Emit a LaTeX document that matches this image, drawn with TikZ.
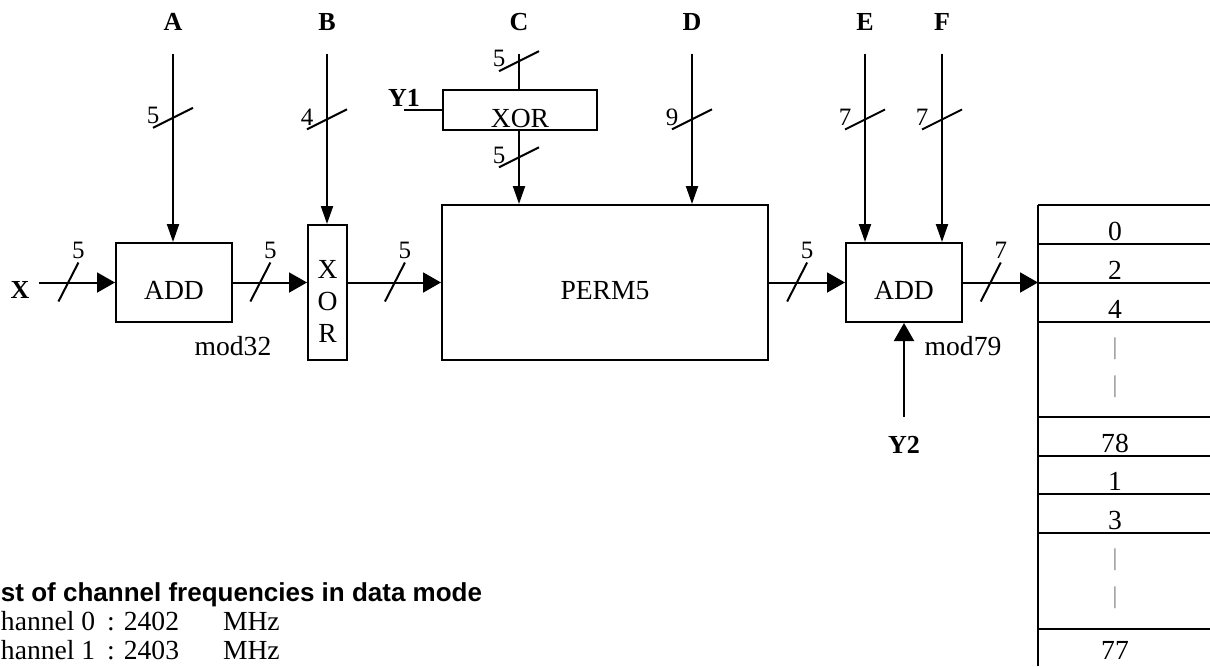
\documentclass[tikz,border=0pt]{standalone}
\usepackage{fontspec}
\setmainfont{Liberation Serif}
\setsansfont{Liberation Sans}
\usetikzlibrary{arrows.meta,positioning}

\begin{document}
\begin{tikzpicture}[
		x=0.5pt, y=-0.5pt, line width=1pt,
		font=\fontsize{13.8}{16}\selectfont,
		box/.style={draw, inner sep=0pt, text height=17pt, text depth=0pt},
		sig/.style={font=\bfseries\fontsize{13}{15}\selectfont, inner sep=0pt, text height=8.5pt, text depth=0pt},
		arr/.style={-{Triangle[length=9pt, width=10pt]}},
		narr/.style={-{Triangle[length=9pt, width=6pt]}},
		feed/.style={narr, shorten <=11pt},
		bits/.style={above, inner sep=1.5pt, font=\fontsize{12.5}{14}\selectfont},
		cell/.style={anchor=base},
		gap/.style={text=black!50, font=\fontsize{12}{14}\selectfont},
		note/.style={anchor=base west, inner sep=0pt},
		]
		\useasboundingbox (0,0) rectangle (1210,666);
		
		% blocks
		\node[box, minimum width=58pt, minimum height=39.5pt] (add1) at (174,282.5) {ADD};
		\node[box, minimum width=19.5pt, minimum height=67.5pt, align=center, text height=49.5pt] (xor1) at (327.5,292.5) {X\\O\\R};
		\node[box, minimum width=163pt, minimum height=77.5pt] (perm) at (605,282.5) {PERM5};
		\node[box, minimum width=77pt, minimum height=20pt] (xor2) at (520,110) {XOR};
		\node[box, minimum width=58pt, minimum height=39.5pt] (add2) at (904,282.5) {ADD};
		\node[below=3pt of add1.south east] (m32) {mod32};
		\node[below=3pt of add2.south east] (m79) {mod79};
		
		% inputs
		\node[sig] (A) at (173,22) {A};
		\node[sig] (B) at (327,22) {B};
		\node[sig] (C) at (519,22) {C};
		\node[sig] (D) at (692,22) {D};
		\node[sig] (E) at (865,22) {E};
		\node[sig] (F) at (942,22) {F};
		\node[sig] (X) at (20,290) {X};
		\node[sig] (Y1) at (404,98) {Y1};
		\node[sig] (Y2) at (904,445) {Y2};
		
		\draw[feed] (A) -- coordinate[pos=0.41] (sA) (A |- add1.north);
		\draw[feed] (B) -- coordinate[pos=0.456] (sB) (B |- xor1.north);
		\draw[shorten <=11pt] (C) -- coordinate[pos=0.517] (sC) (C |- xor2.north);
		\draw[narr] (xor2.south -| C) -- coordinate[pos=0.36] (sCo) (C |- perm.north);
		\draw[feed] (D) -- coordinate[pos=0.509] (sD) (D |- perm.north);
		\draw[feed] (E) -- coordinate[pos=0.418] (sE) (E |- add2.north);
		\draw[feed] (F) -- coordinate[pos=0.418] (sF) (F |- add2.north);
		\draw (Y1 |- xor2) -- (xor2);
		\draw[arr, shorten <=9.5pt] (Y2) -- (add2);
		
		% data path
		\coordinate (tabin) at (1038,282.5);
		\draw[arr, shorten <=4.5pt] (X.east |- add1) -- coordinate[pos=0.45] (sX) (add1);
		\draw[arr] (add1) -- coordinate[pos=0.37] (s1) (add1 -| xor1.west);
		\draw[arr] (xor1.east |- perm) -- coordinate[pos=0.505] (s2) (perm);
		\draw[arr] (perm) -- coordinate[pos=0.37] (s3) (add2);
		\draw[arr] (add2) -- coordinate[pos=0.37] (s4) (tabin);
		
		% bus widths
		\foreach \s/\n in {sA/5, sB/4, sC/5, sCo/5, sD/9, sE/7, sF/7}
			\draw (\s) ++(-20,10) node[bits] {\n} -- ++(40,-20);
		\foreach \s/\n in {sX/5, s1/5, s2/5, s3/5, s4/7}
			\draw (\s) ++(-10,19) -- ++(20,-39) node[bits] {\n};
		
		% channel table
		\draw (1038,205) -- (1038,666);
		\foreach \y in {205,244,283,322,417,456,494,533,629}
			\draw (1038,\y) -- (1210,\y);
		\foreach \t/\y in {0/240, 2/279, 4/318, 78/452, 1/490, 3/529, 77/659}
			\node[cell] (ch\t) at (1115,\y) {\t};
		\foreach \y [count=\i] in {349,387,560,598}
			\node[gap] (dots\i) at (1115,\y) {|};
		
		% frequency list
		\node[note, font=\sffamily\bfseries\fontsize{13}{15}\selectfont] (title) at (0,601) {st of channel frequencies in data mode};
		\node[note] (chn0) at (0,630) {hannel 0};
		\node[note] (frq0) at (106,630) {: 2402};
		\node[note] (mhz0) at (222,630) {MHz};
		\node[note] (chn1) at (0,659) {hannel 1};
		\node[note] (frq1) at (106,659) {: 2403};
		\node[note] (mhz1) at (222,659) {MHz};
		
	\end{tikzpicture}
\end{document}
